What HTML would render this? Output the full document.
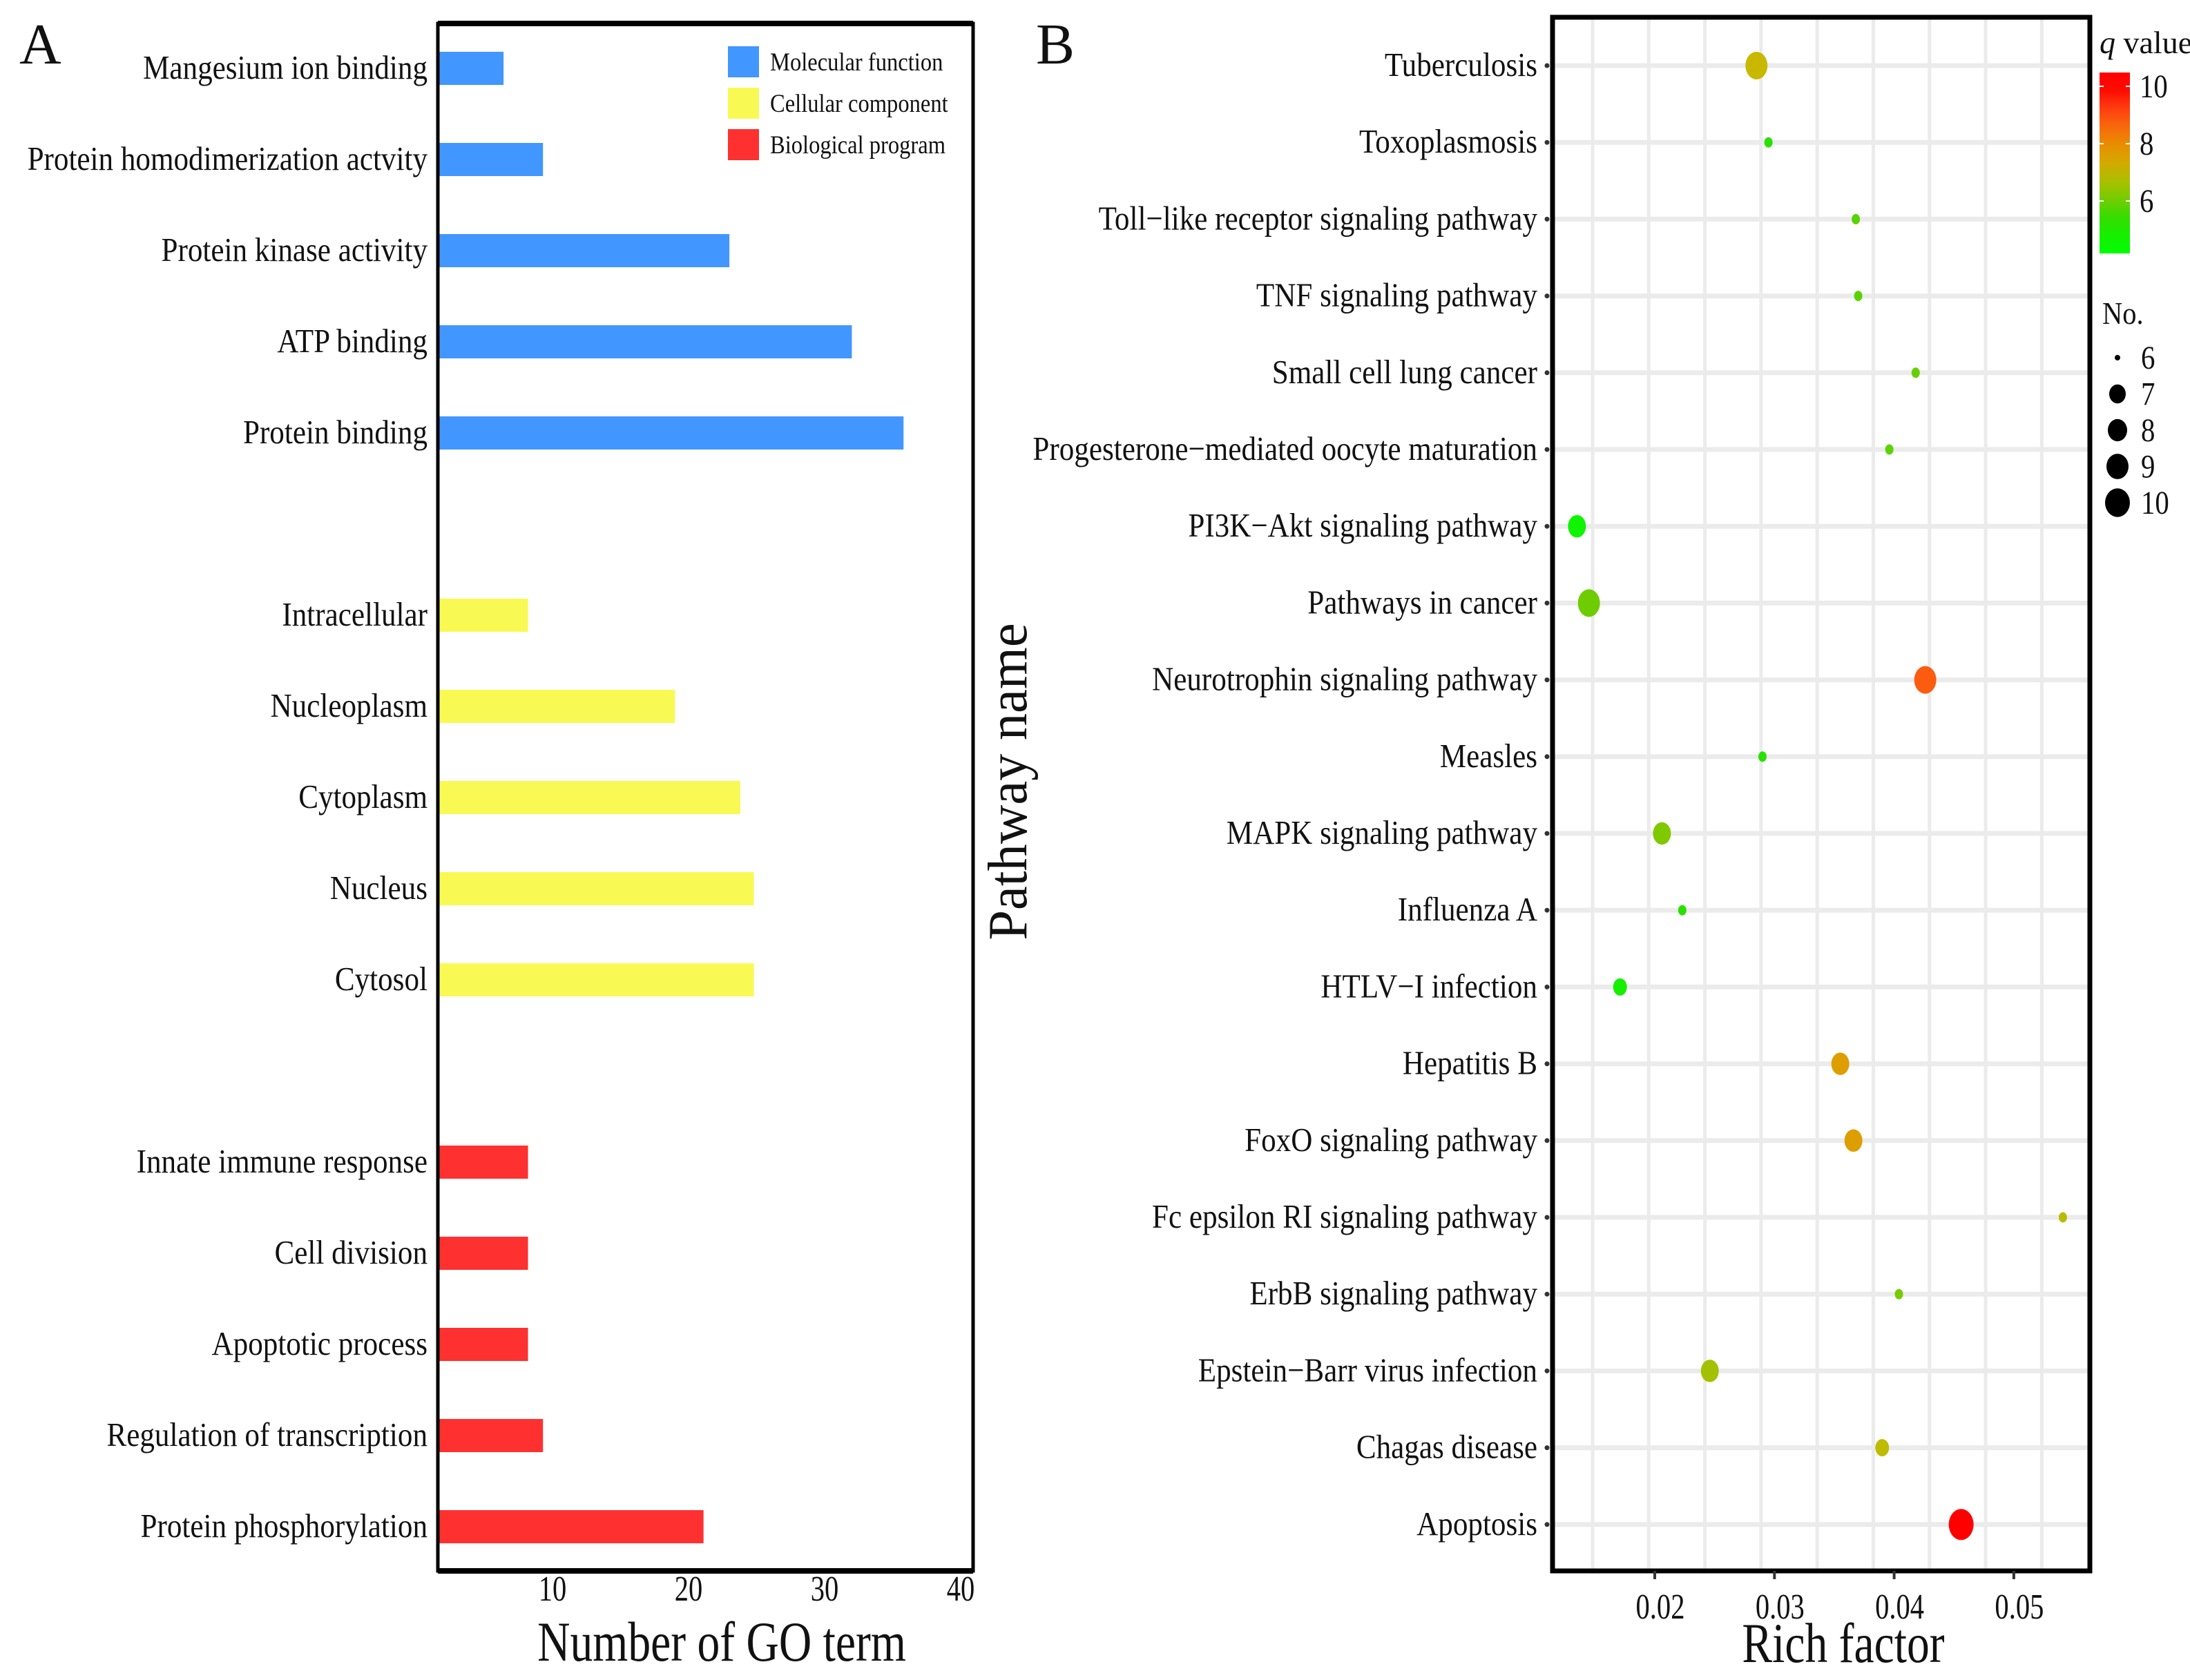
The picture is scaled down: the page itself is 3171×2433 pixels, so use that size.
<!DOCTYPE html>
<html><head><meta charset="utf-8"><style>
html,body{margin:0;padding:0;background:#fff}
svg{display:block;font-family:"Liberation Serif",serif}
</style></head><body>
<svg id="chart" width="3171" height="2433" viewBox="0 0 3171 2433" xmlns="http://www.w3.org/2000/svg">
<rect x="0" y="0" width="3171" height="2433" fill="#fff"/>
<g id="left"></g>
<g id="right"></g>
</svg>
<script>
// ---- Panel A data ----
const goTerms = ["Mangesium ion binding","Protein homodimerization actvity","Protein kinase activity","ATP binding","Protein binding","Intracellular","Nucleoplasm","Cytoplasm","Nucleus","Cytosol","Innate immune response","Cell division","Apoptotic process","Regulation of transcription","Protein phosphorylation"];
const goCounts = [6.4,9.3,23,32,35.8,8.2,19,23.8,24.8,24.8,8.2,8.2,8.2,9.3,21.1];
const goGroups = [0,0,0,0,0,1,1,1,1,1,2,2,2,2,2];
const goSlots = [0,1,2,3,4,6,7,8,9,10,12,13,14,15,16];
const goTicks = [10,20,30,40];
const groupNames = ["Molecular function","Cellular component","Biological program"];
// ---- Panel B data ----
const pathways = ["Tuberculosis","Toxoplasmosis","Toll\u2212like receptor signaling pathway","TNF signaling pathway","Small cell lung cancer","Progesterone\u2212mediated oocyte maturation","PI3K\u2212Akt signaling pathway","Pathways in cancer","Neurotrophin signaling pathway","Measles","MAPK signaling pathway","Influenza A","HTLV\u2212I infection","Hepatitis B","FoxO signaling pathway","Fc epsilon RI signaling pathway","ErbB signaling pathway","Epstein\u2212Barr virus infection","Chagas disease","Apoptosis"];
const richFactor = [0.0285,0.0295,0.0368,0.0370,0.0418,0.0396,0.0135,0.0145,0.0426,0.0290,0.0206,0.0223,0.0171,0.0355,0.0366,0.0541,0.0404,0.0246,0.0390,0.0456];
const geneNo = [9,6,6,6,6,6,8,9,9,6,8,6,7,8,8,6,6,8,7,10];
const qValue = [7.0,5.3,5.8,5.8,5.9,5.8,4.6,6.0,8.8,5.3,6.2,5.3,4.8,7.6,7.6,6.8,6.1,6.6,6.9,10];
const richTicks = [0.02,0.03,0.04,0.05];
const qTicks = [10,8,6];
const noLegend = [6,7,8,9,10];

const NS="http://www.w3.org/2000/svg";
function mk(parent,tag,attrs,txt){const e=document.createElementNS(NS,tag);for(const k in attrs)e.setAttribute(k,attrs[k]);if(txt!==undefined)e.textContent=txt;parent.appendChild(e);return e;}
function ctext(parent,x,y,size,anchor,str,sx){const g=mk(parent,"g",{transform:`translate(${x},${y}) scale(${sx||0.88},1)`});const t=mk(g,"text",{x:0,y:0,"font-size":size,"text-anchor":anchor,fill:"#111"},str);return t;}

// ===== Panel A =====
const L=document.getElementById("left");
const ax0=603, aUnit=19.7, boxL=634, boxR=1409, boxT=34, boxB=2275;
const xA=v=>ax0+v*aUnit;
const yA=s=>99+s*132;
const colors=["#4196ff","#f9f954","#ff3030"];
const lblA=ctext(L,28,92,84,"start","A",1);


goTerms.forEach((t,i)=>{
  const y=yA(goSlots[i]);
  const r=mk(L,"rect",{x:boxL,y:y-24,width:Math.max(0,xA(goCounts[i])-boxL),height:48,fill:colors[goGroups[i]]});
  
  
  const lt=ctext(L,619,y+15,49,"end",t);
  
  
});
const frameA=mk(L,"rect",{x:boxL,y:boxT,width:boxR-boxL,height:boxB-boxT,fill:"none",stroke:"#000","stroke-width":5});


mk(L,"line",{x1:boxL,x2:boxR,y1:boxT,y2:boxT,stroke:"#000","stroke-width":8});
mk(L,"line",{x1:boxL,x2:boxR,y1:boxB,y2:boxB,stroke:"#000","stroke-width":8});
goTicks.forEach(v=>{
  const t=ctext(L,xA(v),2318,52,"middle",String(v),0.78);
  
  
});
const tA=ctext(L,1045,2405,82,"middle","Number of GO term",0.8);


groupNames.forEach((n,i)=>{
  const y=67+i*60;
  const g=mk(L,"g",{});
  
  
  mk(g,"rect",{x:1054,y:y,width:45,height:45,fill:colors[i]});
  ctext(g,1115,y+35,37,"start",n);
});

// ===== Panel B =====
const R=document.getElementById("right");
const bL=2248,bR=3026,bT=25,bB=2275;
const xB=v=>2396+(v-0.02)*17330;
const yB=i=>95+i*111.2;
const lblB=ctext(R,1500,92,84,"start","B",1);


for(let k=0;k<9;k++){const gx=2306+k*81.3;mk(R,"line",{x1:gx,x2:gx,y1:bT,y2:bB,stroke:"#ebebeb","stroke-width":5});}
pathways.forEach((p,i)=>{mk(R,"line",{x1:bL,x2:bR,y1:yB(i),y2:yB(i),stroke:"#ebebeb","stroke-width":7});});
function qColor(q){
  const stops=[[4.2,[0,255,0]],[5.3,[40,225,0]],[6,[110,205,0]],[7,[200,185,0]],[8,[235,140,0]],[9,[255,80,20]],[10,[255,0,0]]];
  q=Math.max(4.2,Math.min(10,q));
  for(let i=1;i<stops.length;i++){if(q<=stops[i][0]){const a=stops[i-1],b=stops[i],f=(q-a[0])/(b[0]-a[0]);return "rgb("+a[1].map((c,j)=>Math.round(c+(b[1][j]-c)*f)).join(",")+")";}}
  return "rgb(255,0,0)";
}
const rOf=n=>[6,10,13,16,18][Math.max(0,Math.min(4,n-6))];
pathways.forEach((p,i)=>{
  const y=yB(i);
  const lt=ctext(R,2226,y+15,49,"end",p);
  
  
  mk(R,"circle",{cx:2240,cy:y,r:3.5,fill:"#333"});
  const r=rOf(geneNo[i]);
  const e=mk(R,"ellipse",{cx:xB(richFactor[i]),cy:y,rx:r,ry:r*1.25,fill:qColor(qValue[i])});
  
  
});
const frameB=mk(R,"rect",{x:bL,y:bT,width:bR-bL,height:bB-bT,fill:"none",stroke:"#000","stroke-width":7});


richTicks.forEach(v=>{
  mk(R,"line",{x1:xB(v),x2:xB(v),y1:bB,y2:bB+12,stroke:"#333","stroke-width":4});
  const t=ctext(R,xB(v)+8,2344,52,"middle",v.toFixed(2),0.78);
  
  
});
const tB=ctext(R,2669,2407,82,"middle","Rich factor",0.8);


const yt=mk(R,"g",{transform:"translate(1486,1132) rotate(-90) scale(0.98,1)"});
const ytt=mk(yt,"text",{x:0,y:0,"font-size":80,"text-anchor":"middle",fill:"#111"},"Pathway name");


// q value colorbar
const defs=mk(R,"defs",{});
const grad=mk(defs,"linearGradient",{id:"qg",x1:0,y1:1,x2:0,y2:0});
const cbTop=105,cbBot=367,qAt=y=>6-(y-291)/41.5;
for(let k=0;k<=10;k++){const y=cbBot-(cbBot-cbTop)*k/10;mk(grad,"stop",{offset:k/10,"stop-color":qColor(qAt(y))});}
const cb=mk(R,"rect",{x:3040,y:cbTop,width:44,height:cbBot-cbTop,fill:"url(#qg)"});


const qt=mk(R,"text",{x:3040,y:77,"font-size":46,fill:"#111"});


mk(qt,"tspan",{"font-style":"italic"},"q");mk(qt,"tspan",{}," value");
qTicks.forEach(q=>{
  const y=291-(q-6)*41.5;
  mk(R,"line",{x1:3040,x2:3046,y1:y,y2:y,stroke:"#fff","stroke-width":2});
  mk(R,"line",{x1:3078,x2:3084,y1:y,y2:y,stroke:"#fff","stroke-width":2});
  ctext(R,3098,y+16,48,"start",String(q),0.85);
});
const nt=ctext(R,3044,469,46,"start","No.");


noLegend.forEach((n,i)=>{
  const y=518+i*52.5;
  const g=mk(R,"g",{});
  
  
  const r=[4,12,14,16,18][i];
  mk(g,"ellipse",{cx:3066,cy:y,rx:r,ry:i?r*1.15:r,fill:"#000"});
  ctext(g,3100,y+16,48,"start",String(n),0.85);
});
</script>
</body></html>
